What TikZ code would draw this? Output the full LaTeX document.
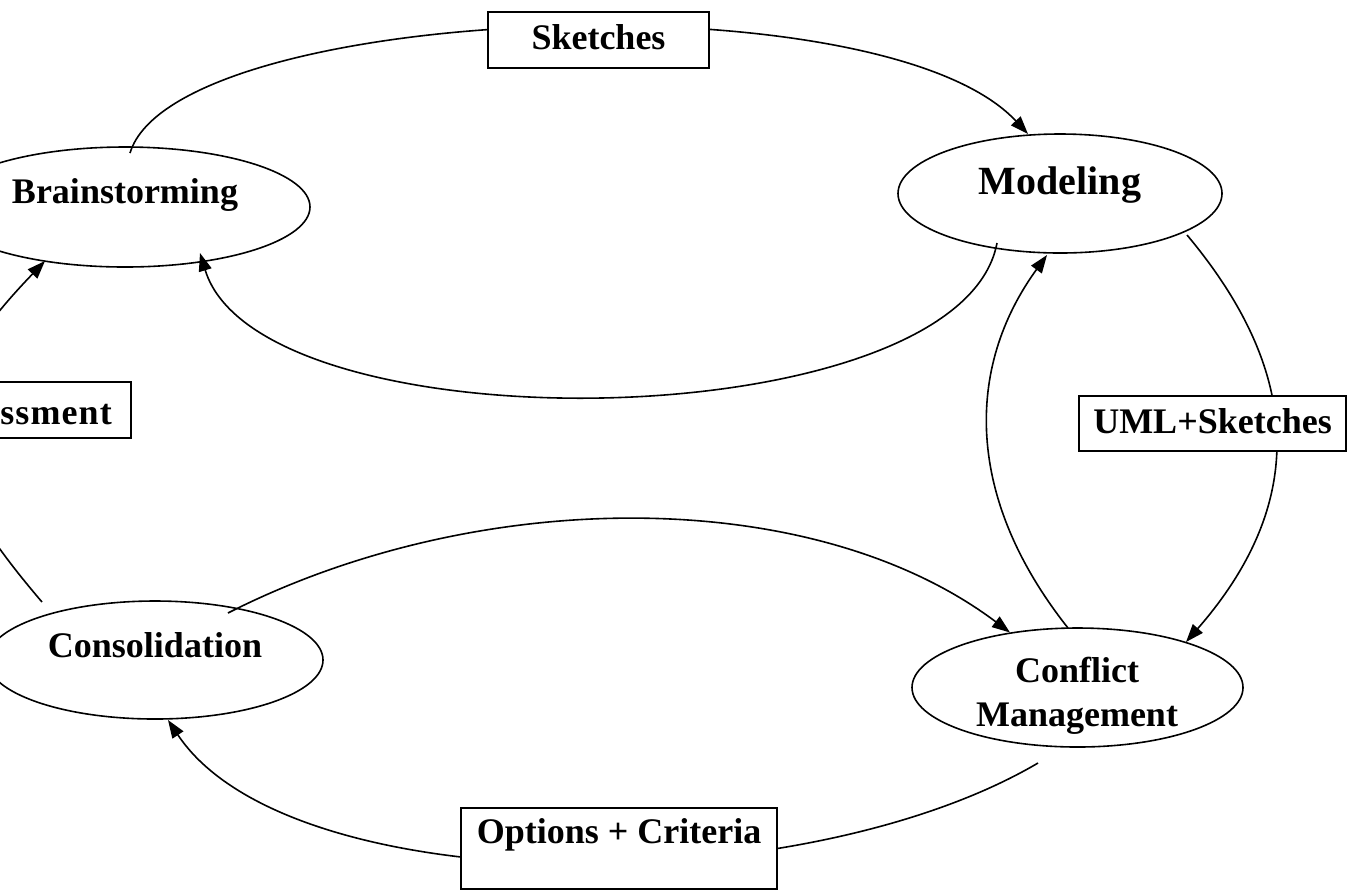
\documentclass[tikz,border=0pt]{standalone}
\usepackage{fontspec}
\setmainfont{Liberation Serif}
\usetikzlibrary{arrows.meta,shapes.geometric,calc}
\begin{document}
\begin{tikzpicture}[x=0.5pt,y=-0.5pt,
  lab/.style={font=\fontsize{18pt}{22pt}\selectfont\bfseries},
  elli/.style={draw, ellipse, line width=0.8pt, inner sep=0pt, outer sep=0pt, lab},
  lbox/.style={draw, fill=white, rectangle, line width=0.8pt, inner sep=0pt, outer sep=0pt, lab},
  conn/.style={line width=0.8pt},
  arr/.style={conn, -{Triangle[length=9pt,width=6.5pt]}}]
\fill[white] (0,0) rectangle (1348,891);
\useasboundingbox (0,0) rectangle (1348,891);
\clip (0,0) rectangle (1348,891);
% ellipses
\node[elli, minimum width=185pt, minimum height=60pt, text height=13pt, text depth=17pt] (brain) at (125,207) {Brainstorming};
\node[elli, minimum width=162pt, minimum height=59.5pt, font=\fontsize{20pt}{24pt}\selectfont\bfseries, text height=14pt, text depth=13.5pt] (model) at (1060,193.5) {Modeling};
\node[elli, minimum width=168pt, minimum height=59pt, text height=13pt, text depth=16pt] (cons) at (155,660) {Consolidation};
\node[elli, minimum width=165.5pt, minimum height=59.5pt] (conf) at (1077.5,687.5) {};
\node[lab, align=center, inner sep=0pt] (confT) at (1077,696) {Conflict\\Management};
% connectors
\draw[arr] ($(brain.center)+(5,-54)$) .. controls (175,5) and (880,-25) .. ($(model.center)+(-32,-59.5)$);
\draw[arr] ($(model.center)+(-63,49.5)$) .. controls (960,440) and (260,450) .. ($(brain.center)+(75,46)$);
\draw[arr] ($(cons.center)+(73,-47)$) .. controls (480,485) and (814,485) .. ($(conf.center)+(-67.5,-55)$);
\draw[arr] ($(conf.center)+(-39.5,75.5)$) .. controls (802,902) and (289,902) .. ($(cons.center)+(13,60)$);
\draw[arr] ($(conf.center)+(-9.5,-59.5)$) .. controls (965,498) and (965,368) .. ($(model.center)+(-13,61.5)$);
\draw[arr] ($(model.center)+(127,41.5)$) .. controls (1300,370) and (1310,500) .. ($(conf.center)+(108.5,-45.5)$);
\draw[arr] ($(cons.center)+(-113,-58)$) .. controls (-81,458) and (-81,392) .. ($(brain.center)+(-80,54)$);
% label boxes
\node[lbox, minimum width=110.5pt, minimum height=28pt, text height=13pt, text depth=4pt] (sk) at (598.5,40) {Sketches};
\node[lbox, minimum width=133.5pt, minimum height=27.5pt, text height=13pt, text depth=3.5pt] (uml) at (1212.5,423.5) {UML+Sketches};
\node[lbox, minimum width=158pt, minimum height=40.5pt, text height=13pt, text depth=18.5pt] (opt) at (619,848.5) {Options + Criteria};
\node[lbox, minimum width=107pt, minimum height=28pt, text height=14pt, text depth=0pt] (ass) at (24,410) {{\addfontfeature{LetterSpace=3}Assessment}\kern5pt};
\end{tikzpicture}
\end{document}
